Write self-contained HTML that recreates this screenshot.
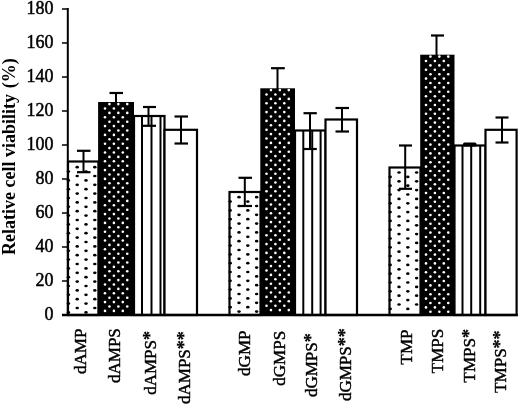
<!DOCTYPE html>
<html><head><meta charset="utf-8"><style>
html,body{margin:0;padding:0;background:#fff;}
body{width:520px;height:406px;overflow:hidden;}
svg{display:block;will-change:transform;}
text{font-family:"Liberation Serif",serif;fill:#000;}
.tk{font-size:18px;stroke:#000;stroke-width:0.5px;}
.yt{font-size:18px;font-weight:bold;}
.xl{font-size:17px;stroke:#000;stroke-width:0.45px;}
.st{font-size:18px;font-weight:bold;stroke-width:0.2px;}
</style></head><body>
<svg width="520" height="406" viewBox="0 0 520 406">
<defs></defs>
<rect x="68" y="161.5" width="30.400000000000006" height="153.5" fill="#fff" stroke="#000" stroke-width="2.2"/>
<ellipse cx="77.20" cy="167.20" rx="1.75" ry="1.35" fill="#000"/>
<ellipse cx="77.20" cy="176.00" rx="1.75" ry="1.35" fill="#000"/>
<ellipse cx="77.20" cy="184.80" rx="1.75" ry="1.35" fill="#000"/>
<ellipse cx="77.20" cy="193.60" rx="1.75" ry="1.35" fill="#000"/>
<ellipse cx="77.20" cy="202.40" rx="1.75" ry="1.35" fill="#000"/>
<ellipse cx="77.20" cy="211.20" rx="1.75" ry="1.35" fill="#000"/>
<ellipse cx="77.20" cy="220.00" rx="1.75" ry="1.35" fill="#000"/>
<ellipse cx="77.20" cy="228.80" rx="1.75" ry="1.35" fill="#000"/>
<ellipse cx="77.20" cy="237.60" rx="1.75" ry="1.35" fill="#000"/>
<ellipse cx="77.20" cy="246.40" rx="1.75" ry="1.35" fill="#000"/>
<ellipse cx="77.20" cy="255.20" rx="1.75" ry="1.35" fill="#000"/>
<ellipse cx="77.20" cy="264.00" rx="1.75" ry="1.35" fill="#000"/>
<ellipse cx="77.20" cy="272.80" rx="1.75" ry="1.35" fill="#000"/>
<ellipse cx="77.20" cy="281.60" rx="1.75" ry="1.35" fill="#000"/>
<ellipse cx="77.20" cy="290.40" rx="1.75" ry="1.35" fill="#000"/>
<ellipse cx="77.20" cy="299.20" rx="1.75" ry="1.35" fill="#000"/>
<ellipse cx="77.20" cy="308.00" rx="1.75" ry="1.35" fill="#000"/>
<ellipse cx="94.80" cy="167.20" rx="1.75" ry="1.35" fill="#000"/>
<ellipse cx="94.80" cy="176.00" rx="1.75" ry="1.35" fill="#000"/>
<ellipse cx="94.80" cy="184.80" rx="1.75" ry="1.35" fill="#000"/>
<ellipse cx="94.80" cy="193.60" rx="1.75" ry="1.35" fill="#000"/>
<ellipse cx="94.80" cy="202.40" rx="1.75" ry="1.35" fill="#000"/>
<ellipse cx="94.80" cy="211.20" rx="1.75" ry="1.35" fill="#000"/>
<ellipse cx="94.80" cy="220.00" rx="1.75" ry="1.35" fill="#000"/>
<ellipse cx="94.80" cy="228.80" rx="1.75" ry="1.35" fill="#000"/>
<ellipse cx="94.80" cy="237.60" rx="1.75" ry="1.35" fill="#000"/>
<ellipse cx="94.80" cy="246.40" rx="1.75" ry="1.35" fill="#000"/>
<ellipse cx="94.80" cy="255.20" rx="1.75" ry="1.35" fill="#000"/>
<ellipse cx="94.80" cy="264.00" rx="1.75" ry="1.35" fill="#000"/>
<ellipse cx="94.80" cy="272.80" rx="1.75" ry="1.35" fill="#000"/>
<ellipse cx="94.80" cy="281.60" rx="1.75" ry="1.35" fill="#000"/>
<ellipse cx="94.80" cy="290.40" rx="1.75" ry="1.35" fill="#000"/>
<ellipse cx="94.80" cy="299.20" rx="1.75" ry="1.35" fill="#000"/>
<ellipse cx="94.80" cy="308.00" rx="1.75" ry="1.35" fill="#000"/>
<ellipse cx="86.00" cy="171.60" rx="1.75" ry="1.35" fill="#000"/>
<ellipse cx="86.00" cy="180.40" rx="1.75" ry="1.35" fill="#000"/>
<ellipse cx="86.00" cy="189.20" rx="1.75" ry="1.35" fill="#000"/>
<ellipse cx="86.00" cy="198.00" rx="1.75" ry="1.35" fill="#000"/>
<ellipse cx="86.00" cy="206.80" rx="1.75" ry="1.35" fill="#000"/>
<ellipse cx="86.00" cy="215.60" rx="1.75" ry="1.35" fill="#000"/>
<ellipse cx="86.00" cy="224.40" rx="1.75" ry="1.35" fill="#000"/>
<ellipse cx="86.00" cy="233.20" rx="1.75" ry="1.35" fill="#000"/>
<ellipse cx="86.00" cy="242.00" rx="1.75" ry="1.35" fill="#000"/>
<ellipse cx="86.00" cy="250.80" rx="1.75" ry="1.35" fill="#000"/>
<ellipse cx="86.00" cy="259.60" rx="1.75" ry="1.35" fill="#000"/>
<ellipse cx="86.00" cy="268.40" rx="1.75" ry="1.35" fill="#000"/>
<ellipse cx="86.00" cy="277.20" rx="1.75" ry="1.35" fill="#000"/>
<ellipse cx="86.00" cy="286.00" rx="1.75" ry="1.35" fill="#000"/>
<ellipse cx="86.00" cy="294.80" rx="1.75" ry="1.35" fill="#000"/>
<ellipse cx="86.00" cy="303.60" rx="1.75" ry="1.35" fill="#000"/>
<ellipse cx="86.00" cy="312.40" rx="1.75" ry="1.35" fill="#000"/>
<ellipse cx="68.40" cy="171.60" rx="1.75" ry="1.35" fill="#000"/>
<ellipse cx="68.40" cy="180.40" rx="1.75" ry="1.35" fill="#000"/>
<ellipse cx="68.40" cy="189.20" rx="1.75" ry="1.35" fill="#000"/>
<ellipse cx="68.40" cy="198.00" rx="1.75" ry="1.35" fill="#000"/>
<ellipse cx="68.40" cy="206.80" rx="1.75" ry="1.35" fill="#000"/>
<ellipse cx="68.40" cy="215.60" rx="1.75" ry="1.35" fill="#000"/>
<ellipse cx="68.40" cy="224.40" rx="1.75" ry="1.35" fill="#000"/>
<ellipse cx="68.40" cy="233.20" rx="1.75" ry="1.35" fill="#000"/>
<ellipse cx="68.40" cy="242.00" rx="1.75" ry="1.35" fill="#000"/>
<ellipse cx="68.40" cy="250.80" rx="1.75" ry="1.35" fill="#000"/>
<ellipse cx="68.40" cy="259.60" rx="1.75" ry="1.35" fill="#000"/>
<ellipse cx="68.40" cy="268.40" rx="1.75" ry="1.35" fill="#000"/>
<ellipse cx="68.40" cy="277.20" rx="1.75" ry="1.35" fill="#000"/>
<ellipse cx="68.40" cy="286.00" rx="1.75" ry="1.35" fill="#000"/>
<ellipse cx="68.40" cy="294.80" rx="1.75" ry="1.35" fill="#000"/>
<ellipse cx="68.40" cy="303.60" rx="1.75" ry="1.35" fill="#000"/>
<ellipse cx="68.40" cy="312.40" rx="1.75" ry="1.35" fill="#000"/>
<rect x="98.10000000000001" y="102" width="35.89999999999999" height="213.0" fill="#000"/>
<circle cx="105.00" cy="108.50" r="1.3" fill="#fff"/>
<circle cx="105.00" cy="117.30" r="1.3" fill="#fff"/>
<circle cx="105.00" cy="126.10" r="1.3" fill="#fff"/>
<circle cx="105.00" cy="134.90" r="1.3" fill="#fff"/>
<circle cx="105.00" cy="143.70" r="1.3" fill="#fff"/>
<circle cx="105.00" cy="152.50" r="1.3" fill="#fff"/>
<circle cx="105.00" cy="161.30" r="1.3" fill="#fff"/>
<circle cx="105.00" cy="170.10" r="1.3" fill="#fff"/>
<circle cx="105.00" cy="178.90" r="1.3" fill="#fff"/>
<circle cx="105.00" cy="187.70" r="1.3" fill="#fff"/>
<circle cx="105.00" cy="196.50" r="1.3" fill="#fff"/>
<circle cx="105.00" cy="205.30" r="1.3" fill="#fff"/>
<circle cx="105.00" cy="214.10" r="1.3" fill="#fff"/>
<circle cx="105.00" cy="222.90" r="1.3" fill="#fff"/>
<circle cx="105.00" cy="231.70" r="1.3" fill="#fff"/>
<circle cx="105.00" cy="240.50" r="1.3" fill="#fff"/>
<circle cx="105.00" cy="249.30" r="1.3" fill="#fff"/>
<circle cx="105.00" cy="258.10" r="1.3" fill="#fff"/>
<circle cx="105.00" cy="266.90" r="1.3" fill="#fff"/>
<circle cx="105.00" cy="275.70" r="1.3" fill="#fff"/>
<circle cx="105.00" cy="284.50" r="1.3" fill="#fff"/>
<circle cx="105.00" cy="293.30" r="1.3" fill="#fff"/>
<circle cx="105.00" cy="302.10" r="1.3" fill="#fff"/>
<circle cx="105.00" cy="310.90" r="1.3" fill="#fff"/>
<circle cx="109.45" cy="104.10" r="1.3" fill="#fff"/>
<circle cx="109.45" cy="112.90" r="1.3" fill="#fff"/>
<circle cx="109.45" cy="121.70" r="1.3" fill="#fff"/>
<circle cx="109.45" cy="130.50" r="1.3" fill="#fff"/>
<circle cx="109.45" cy="139.30" r="1.3" fill="#fff"/>
<circle cx="109.45" cy="148.10" r="1.3" fill="#fff"/>
<circle cx="109.45" cy="156.90" r="1.3" fill="#fff"/>
<circle cx="109.45" cy="165.70" r="1.3" fill="#fff"/>
<circle cx="109.45" cy="174.50" r="1.3" fill="#fff"/>
<circle cx="109.45" cy="183.30" r="1.3" fill="#fff"/>
<circle cx="109.45" cy="192.10" r="1.3" fill="#fff"/>
<circle cx="109.45" cy="200.90" r="1.3" fill="#fff"/>
<circle cx="109.45" cy="209.70" r="1.3" fill="#fff"/>
<circle cx="109.45" cy="218.50" r="1.3" fill="#fff"/>
<circle cx="109.45" cy="227.30" r="1.3" fill="#fff"/>
<circle cx="109.45" cy="236.10" r="1.3" fill="#fff"/>
<circle cx="109.45" cy="244.90" r="1.3" fill="#fff"/>
<circle cx="109.45" cy="253.70" r="1.3" fill="#fff"/>
<circle cx="109.45" cy="262.50" r="1.3" fill="#fff"/>
<circle cx="109.45" cy="271.30" r="1.3" fill="#fff"/>
<circle cx="109.45" cy="280.10" r="1.3" fill="#fff"/>
<circle cx="109.45" cy="288.90" r="1.3" fill="#fff"/>
<circle cx="109.45" cy="297.70" r="1.3" fill="#fff"/>
<circle cx="109.45" cy="306.50" r="1.3" fill="#fff"/>
<circle cx="113.90" cy="108.50" r="1.3" fill="#fff"/>
<circle cx="113.90" cy="117.30" r="1.3" fill="#fff"/>
<circle cx="113.90" cy="126.10" r="1.3" fill="#fff"/>
<circle cx="113.90" cy="134.90" r="1.3" fill="#fff"/>
<circle cx="113.90" cy="143.70" r="1.3" fill="#fff"/>
<circle cx="113.90" cy="152.50" r="1.3" fill="#fff"/>
<circle cx="113.90" cy="161.30" r="1.3" fill="#fff"/>
<circle cx="113.90" cy="170.10" r="1.3" fill="#fff"/>
<circle cx="113.90" cy="178.90" r="1.3" fill="#fff"/>
<circle cx="113.90" cy="187.70" r="1.3" fill="#fff"/>
<circle cx="113.90" cy="196.50" r="1.3" fill="#fff"/>
<circle cx="113.90" cy="205.30" r="1.3" fill="#fff"/>
<circle cx="113.90" cy="214.10" r="1.3" fill="#fff"/>
<circle cx="113.90" cy="222.90" r="1.3" fill="#fff"/>
<circle cx="113.90" cy="231.70" r="1.3" fill="#fff"/>
<circle cx="113.90" cy="240.50" r="1.3" fill="#fff"/>
<circle cx="113.90" cy="249.30" r="1.3" fill="#fff"/>
<circle cx="113.90" cy="258.10" r="1.3" fill="#fff"/>
<circle cx="113.90" cy="266.90" r="1.3" fill="#fff"/>
<circle cx="113.90" cy="275.70" r="1.3" fill="#fff"/>
<circle cx="113.90" cy="284.50" r="1.3" fill="#fff"/>
<circle cx="113.90" cy="293.30" r="1.3" fill="#fff"/>
<circle cx="113.90" cy="302.10" r="1.3" fill="#fff"/>
<circle cx="113.90" cy="310.90" r="1.3" fill="#fff"/>
<circle cx="118.35" cy="104.10" r="1.3" fill="#fff"/>
<circle cx="118.35" cy="112.90" r="1.3" fill="#fff"/>
<circle cx="118.35" cy="121.70" r="1.3" fill="#fff"/>
<circle cx="118.35" cy="130.50" r="1.3" fill="#fff"/>
<circle cx="118.35" cy="139.30" r="1.3" fill="#fff"/>
<circle cx="118.35" cy="148.10" r="1.3" fill="#fff"/>
<circle cx="118.35" cy="156.90" r="1.3" fill="#fff"/>
<circle cx="118.35" cy="165.70" r="1.3" fill="#fff"/>
<circle cx="118.35" cy="174.50" r="1.3" fill="#fff"/>
<circle cx="118.35" cy="183.30" r="1.3" fill="#fff"/>
<circle cx="118.35" cy="192.10" r="1.3" fill="#fff"/>
<circle cx="118.35" cy="200.90" r="1.3" fill="#fff"/>
<circle cx="118.35" cy="209.70" r="1.3" fill="#fff"/>
<circle cx="118.35" cy="218.50" r="1.3" fill="#fff"/>
<circle cx="118.35" cy="227.30" r="1.3" fill="#fff"/>
<circle cx="118.35" cy="236.10" r="1.3" fill="#fff"/>
<circle cx="118.35" cy="244.90" r="1.3" fill="#fff"/>
<circle cx="118.35" cy="253.70" r="1.3" fill="#fff"/>
<circle cx="118.35" cy="262.50" r="1.3" fill="#fff"/>
<circle cx="118.35" cy="271.30" r="1.3" fill="#fff"/>
<circle cx="118.35" cy="280.10" r="1.3" fill="#fff"/>
<circle cx="118.35" cy="288.90" r="1.3" fill="#fff"/>
<circle cx="118.35" cy="297.70" r="1.3" fill="#fff"/>
<circle cx="118.35" cy="306.50" r="1.3" fill="#fff"/>
<circle cx="122.80" cy="108.50" r="1.3" fill="#fff"/>
<circle cx="122.80" cy="117.30" r="1.3" fill="#fff"/>
<circle cx="122.80" cy="126.10" r="1.3" fill="#fff"/>
<circle cx="122.80" cy="134.90" r="1.3" fill="#fff"/>
<circle cx="122.80" cy="143.70" r="1.3" fill="#fff"/>
<circle cx="122.80" cy="152.50" r="1.3" fill="#fff"/>
<circle cx="122.80" cy="161.30" r="1.3" fill="#fff"/>
<circle cx="122.80" cy="170.10" r="1.3" fill="#fff"/>
<circle cx="122.80" cy="178.90" r="1.3" fill="#fff"/>
<circle cx="122.80" cy="187.70" r="1.3" fill="#fff"/>
<circle cx="122.80" cy="196.50" r="1.3" fill="#fff"/>
<circle cx="122.80" cy="205.30" r="1.3" fill="#fff"/>
<circle cx="122.80" cy="214.10" r="1.3" fill="#fff"/>
<circle cx="122.80" cy="222.90" r="1.3" fill="#fff"/>
<circle cx="122.80" cy="231.70" r="1.3" fill="#fff"/>
<circle cx="122.80" cy="240.50" r="1.3" fill="#fff"/>
<circle cx="122.80" cy="249.30" r="1.3" fill="#fff"/>
<circle cx="122.80" cy="258.10" r="1.3" fill="#fff"/>
<circle cx="122.80" cy="266.90" r="1.3" fill="#fff"/>
<circle cx="122.80" cy="275.70" r="1.3" fill="#fff"/>
<circle cx="122.80" cy="284.50" r="1.3" fill="#fff"/>
<circle cx="122.80" cy="293.30" r="1.3" fill="#fff"/>
<circle cx="122.80" cy="302.10" r="1.3" fill="#fff"/>
<circle cx="122.80" cy="310.90" r="1.3" fill="#fff"/>
<circle cx="127.25" cy="104.10" r="1.3" fill="#fff"/>
<circle cx="127.25" cy="112.90" r="1.3" fill="#fff"/>
<circle cx="127.25" cy="121.70" r="1.3" fill="#fff"/>
<circle cx="127.25" cy="130.50" r="1.3" fill="#fff"/>
<circle cx="127.25" cy="139.30" r="1.3" fill="#fff"/>
<circle cx="127.25" cy="148.10" r="1.3" fill="#fff"/>
<circle cx="127.25" cy="156.90" r="1.3" fill="#fff"/>
<circle cx="127.25" cy="165.70" r="1.3" fill="#fff"/>
<circle cx="127.25" cy="174.50" r="1.3" fill="#fff"/>
<circle cx="127.25" cy="183.30" r="1.3" fill="#fff"/>
<circle cx="127.25" cy="192.10" r="1.3" fill="#fff"/>
<circle cx="127.25" cy="200.90" r="1.3" fill="#fff"/>
<circle cx="127.25" cy="209.70" r="1.3" fill="#fff"/>
<circle cx="127.25" cy="218.50" r="1.3" fill="#fff"/>
<circle cx="127.25" cy="227.30" r="1.3" fill="#fff"/>
<circle cx="127.25" cy="236.10" r="1.3" fill="#fff"/>
<circle cx="127.25" cy="244.90" r="1.3" fill="#fff"/>
<circle cx="127.25" cy="253.70" r="1.3" fill="#fff"/>
<circle cx="127.25" cy="262.50" r="1.3" fill="#fff"/>
<circle cx="127.25" cy="271.30" r="1.3" fill="#fff"/>
<circle cx="127.25" cy="280.10" r="1.3" fill="#fff"/>
<circle cx="127.25" cy="288.90" r="1.3" fill="#fff"/>
<circle cx="127.25" cy="297.70" r="1.3" fill="#fff"/>
<circle cx="127.25" cy="306.50" r="1.3" fill="#fff"/>
<rect x="134" y="116" width="30.5" height="199.0" fill="#fff" stroke="#000" stroke-width="2.2"/>
<line x1="142" y1="116" x2="142" y2="315.0" stroke="#000" stroke-width="2"/>
<line x1="151.5" y1="116" x2="151.5" y2="315.0" stroke="#000" stroke-width="2"/>
<line x1="160.5" y1="116" x2="160.5" y2="315.0" stroke="#000" stroke-width="2"/>
<rect x="164.5" y="129.8" width="32.5" height="185.2" fill="#fff" stroke="#000" stroke-width="2.2"/>
<rect x="229.5" y="192" width="31.0" height="123.0" fill="#fff" stroke="#000" stroke-width="2.2"/>
<ellipse cx="239.00" cy="197.20" rx="1.75" ry="1.35" fill="#000"/>
<ellipse cx="239.00" cy="206.00" rx="1.75" ry="1.35" fill="#000"/>
<ellipse cx="239.00" cy="214.80" rx="1.75" ry="1.35" fill="#000"/>
<ellipse cx="239.00" cy="223.60" rx="1.75" ry="1.35" fill="#000"/>
<ellipse cx="239.00" cy="232.40" rx="1.75" ry="1.35" fill="#000"/>
<ellipse cx="239.00" cy="241.20" rx="1.75" ry="1.35" fill="#000"/>
<ellipse cx="239.00" cy="250.00" rx="1.75" ry="1.35" fill="#000"/>
<ellipse cx="239.00" cy="258.80" rx="1.75" ry="1.35" fill="#000"/>
<ellipse cx="239.00" cy="267.60" rx="1.75" ry="1.35" fill="#000"/>
<ellipse cx="239.00" cy="276.40" rx="1.75" ry="1.35" fill="#000"/>
<ellipse cx="239.00" cy="285.20" rx="1.75" ry="1.35" fill="#000"/>
<ellipse cx="239.00" cy="294.00" rx="1.75" ry="1.35" fill="#000"/>
<ellipse cx="239.00" cy="302.80" rx="1.75" ry="1.35" fill="#000"/>
<ellipse cx="239.00" cy="311.60" rx="1.75" ry="1.35" fill="#000"/>
<ellipse cx="256.60" cy="197.20" rx="1.75" ry="1.35" fill="#000"/>
<ellipse cx="256.60" cy="206.00" rx="1.75" ry="1.35" fill="#000"/>
<ellipse cx="256.60" cy="214.80" rx="1.75" ry="1.35" fill="#000"/>
<ellipse cx="256.60" cy="223.60" rx="1.75" ry="1.35" fill="#000"/>
<ellipse cx="256.60" cy="232.40" rx="1.75" ry="1.35" fill="#000"/>
<ellipse cx="256.60" cy="241.20" rx="1.75" ry="1.35" fill="#000"/>
<ellipse cx="256.60" cy="250.00" rx="1.75" ry="1.35" fill="#000"/>
<ellipse cx="256.60" cy="258.80" rx="1.75" ry="1.35" fill="#000"/>
<ellipse cx="256.60" cy="267.60" rx="1.75" ry="1.35" fill="#000"/>
<ellipse cx="256.60" cy="276.40" rx="1.75" ry="1.35" fill="#000"/>
<ellipse cx="256.60" cy="285.20" rx="1.75" ry="1.35" fill="#000"/>
<ellipse cx="256.60" cy="294.00" rx="1.75" ry="1.35" fill="#000"/>
<ellipse cx="256.60" cy="302.80" rx="1.75" ry="1.35" fill="#000"/>
<ellipse cx="256.60" cy="311.60" rx="1.75" ry="1.35" fill="#000"/>
<ellipse cx="247.80" cy="201.60" rx="1.75" ry="1.35" fill="#000"/>
<ellipse cx="247.80" cy="210.40" rx="1.75" ry="1.35" fill="#000"/>
<ellipse cx="247.80" cy="219.20" rx="1.75" ry="1.35" fill="#000"/>
<ellipse cx="247.80" cy="228.00" rx="1.75" ry="1.35" fill="#000"/>
<ellipse cx="247.80" cy="236.80" rx="1.75" ry="1.35" fill="#000"/>
<ellipse cx="247.80" cy="245.60" rx="1.75" ry="1.35" fill="#000"/>
<ellipse cx="247.80" cy="254.40" rx="1.75" ry="1.35" fill="#000"/>
<ellipse cx="247.80" cy="263.20" rx="1.75" ry="1.35" fill="#000"/>
<ellipse cx="247.80" cy="272.00" rx="1.75" ry="1.35" fill="#000"/>
<ellipse cx="247.80" cy="280.80" rx="1.75" ry="1.35" fill="#000"/>
<ellipse cx="247.80" cy="289.60" rx="1.75" ry="1.35" fill="#000"/>
<ellipse cx="247.80" cy="298.40" rx="1.75" ry="1.35" fill="#000"/>
<ellipse cx="247.80" cy="307.20" rx="1.75" ry="1.35" fill="#000"/>
<ellipse cx="230.20" cy="201.60" rx="1.75" ry="1.35" fill="#000"/>
<ellipse cx="230.20" cy="210.40" rx="1.75" ry="1.35" fill="#000"/>
<ellipse cx="230.20" cy="219.20" rx="1.75" ry="1.35" fill="#000"/>
<ellipse cx="230.20" cy="228.00" rx="1.75" ry="1.35" fill="#000"/>
<ellipse cx="230.20" cy="236.80" rx="1.75" ry="1.35" fill="#000"/>
<ellipse cx="230.20" cy="245.60" rx="1.75" ry="1.35" fill="#000"/>
<ellipse cx="230.20" cy="254.40" rx="1.75" ry="1.35" fill="#000"/>
<ellipse cx="230.20" cy="263.20" rx="1.75" ry="1.35" fill="#000"/>
<ellipse cx="230.20" cy="272.00" rx="1.75" ry="1.35" fill="#000"/>
<ellipse cx="230.20" cy="280.80" rx="1.75" ry="1.35" fill="#000"/>
<ellipse cx="230.20" cy="289.60" rx="1.75" ry="1.35" fill="#000"/>
<ellipse cx="230.20" cy="298.40" rx="1.75" ry="1.35" fill="#000"/>
<ellipse cx="230.20" cy="307.20" rx="1.75" ry="1.35" fill="#000"/>
<rect x="260.3" y="88.3" width="34.699999999999974" height="226.7" fill="#000"/>
<circle cx="266.50" cy="94.50" r="1.3" fill="#fff"/>
<circle cx="266.50" cy="103.30" r="1.3" fill="#fff"/>
<circle cx="266.50" cy="112.10" r="1.3" fill="#fff"/>
<circle cx="266.50" cy="120.90" r="1.3" fill="#fff"/>
<circle cx="266.50" cy="129.70" r="1.3" fill="#fff"/>
<circle cx="266.50" cy="138.50" r="1.3" fill="#fff"/>
<circle cx="266.50" cy="147.30" r="1.3" fill="#fff"/>
<circle cx="266.50" cy="156.10" r="1.3" fill="#fff"/>
<circle cx="266.50" cy="164.90" r="1.3" fill="#fff"/>
<circle cx="266.50" cy="173.70" r="1.3" fill="#fff"/>
<circle cx="266.50" cy="182.50" r="1.3" fill="#fff"/>
<circle cx="266.50" cy="191.30" r="1.3" fill="#fff"/>
<circle cx="266.50" cy="200.10" r="1.3" fill="#fff"/>
<circle cx="266.50" cy="208.90" r="1.3" fill="#fff"/>
<circle cx="266.50" cy="217.70" r="1.3" fill="#fff"/>
<circle cx="266.50" cy="226.50" r="1.3" fill="#fff"/>
<circle cx="266.50" cy="235.30" r="1.3" fill="#fff"/>
<circle cx="266.50" cy="244.10" r="1.3" fill="#fff"/>
<circle cx="266.50" cy="252.90" r="1.3" fill="#fff"/>
<circle cx="266.50" cy="261.70" r="1.3" fill="#fff"/>
<circle cx="266.50" cy="270.50" r="1.3" fill="#fff"/>
<circle cx="266.50" cy="279.30" r="1.3" fill="#fff"/>
<circle cx="266.50" cy="288.10" r="1.3" fill="#fff"/>
<circle cx="266.50" cy="296.90" r="1.3" fill="#fff"/>
<circle cx="266.50" cy="305.70" r="1.3" fill="#fff"/>
<circle cx="270.95" cy="90.10" r="1.3" fill="#fff"/>
<circle cx="270.95" cy="98.90" r="1.3" fill="#fff"/>
<circle cx="270.95" cy="107.70" r="1.3" fill="#fff"/>
<circle cx="270.95" cy="116.50" r="1.3" fill="#fff"/>
<circle cx="270.95" cy="125.30" r="1.3" fill="#fff"/>
<circle cx="270.95" cy="134.10" r="1.3" fill="#fff"/>
<circle cx="270.95" cy="142.90" r="1.3" fill="#fff"/>
<circle cx="270.95" cy="151.70" r="1.3" fill="#fff"/>
<circle cx="270.95" cy="160.50" r="1.3" fill="#fff"/>
<circle cx="270.95" cy="169.30" r="1.3" fill="#fff"/>
<circle cx="270.95" cy="178.10" r="1.3" fill="#fff"/>
<circle cx="270.95" cy="186.90" r="1.3" fill="#fff"/>
<circle cx="270.95" cy="195.70" r="1.3" fill="#fff"/>
<circle cx="270.95" cy="204.50" r="1.3" fill="#fff"/>
<circle cx="270.95" cy="213.30" r="1.3" fill="#fff"/>
<circle cx="270.95" cy="222.10" r="1.3" fill="#fff"/>
<circle cx="270.95" cy="230.90" r="1.3" fill="#fff"/>
<circle cx="270.95" cy="239.70" r="1.3" fill="#fff"/>
<circle cx="270.95" cy="248.50" r="1.3" fill="#fff"/>
<circle cx="270.95" cy="257.30" r="1.3" fill="#fff"/>
<circle cx="270.95" cy="266.10" r="1.3" fill="#fff"/>
<circle cx="270.95" cy="274.90" r="1.3" fill="#fff"/>
<circle cx="270.95" cy="283.70" r="1.3" fill="#fff"/>
<circle cx="270.95" cy="292.50" r="1.3" fill="#fff"/>
<circle cx="270.95" cy="301.30" r="1.3" fill="#fff"/>
<circle cx="270.95" cy="310.10" r="1.3" fill="#fff"/>
<circle cx="275.40" cy="94.50" r="1.3" fill="#fff"/>
<circle cx="275.40" cy="103.30" r="1.3" fill="#fff"/>
<circle cx="275.40" cy="112.10" r="1.3" fill="#fff"/>
<circle cx="275.40" cy="120.90" r="1.3" fill="#fff"/>
<circle cx="275.40" cy="129.70" r="1.3" fill="#fff"/>
<circle cx="275.40" cy="138.50" r="1.3" fill="#fff"/>
<circle cx="275.40" cy="147.30" r="1.3" fill="#fff"/>
<circle cx="275.40" cy="156.10" r="1.3" fill="#fff"/>
<circle cx="275.40" cy="164.90" r="1.3" fill="#fff"/>
<circle cx="275.40" cy="173.70" r="1.3" fill="#fff"/>
<circle cx="275.40" cy="182.50" r="1.3" fill="#fff"/>
<circle cx="275.40" cy="191.30" r="1.3" fill="#fff"/>
<circle cx="275.40" cy="200.10" r="1.3" fill="#fff"/>
<circle cx="275.40" cy="208.90" r="1.3" fill="#fff"/>
<circle cx="275.40" cy="217.70" r="1.3" fill="#fff"/>
<circle cx="275.40" cy="226.50" r="1.3" fill="#fff"/>
<circle cx="275.40" cy="235.30" r="1.3" fill="#fff"/>
<circle cx="275.40" cy="244.10" r="1.3" fill="#fff"/>
<circle cx="275.40" cy="252.90" r="1.3" fill="#fff"/>
<circle cx="275.40" cy="261.70" r="1.3" fill="#fff"/>
<circle cx="275.40" cy="270.50" r="1.3" fill="#fff"/>
<circle cx="275.40" cy="279.30" r="1.3" fill="#fff"/>
<circle cx="275.40" cy="288.10" r="1.3" fill="#fff"/>
<circle cx="275.40" cy="296.90" r="1.3" fill="#fff"/>
<circle cx="275.40" cy="305.70" r="1.3" fill="#fff"/>
<circle cx="279.85" cy="90.10" r="1.3" fill="#fff"/>
<circle cx="279.85" cy="98.90" r="1.3" fill="#fff"/>
<circle cx="279.85" cy="107.70" r="1.3" fill="#fff"/>
<circle cx="279.85" cy="116.50" r="1.3" fill="#fff"/>
<circle cx="279.85" cy="125.30" r="1.3" fill="#fff"/>
<circle cx="279.85" cy="134.10" r="1.3" fill="#fff"/>
<circle cx="279.85" cy="142.90" r="1.3" fill="#fff"/>
<circle cx="279.85" cy="151.70" r="1.3" fill="#fff"/>
<circle cx="279.85" cy="160.50" r="1.3" fill="#fff"/>
<circle cx="279.85" cy="169.30" r="1.3" fill="#fff"/>
<circle cx="279.85" cy="178.10" r="1.3" fill="#fff"/>
<circle cx="279.85" cy="186.90" r="1.3" fill="#fff"/>
<circle cx="279.85" cy="195.70" r="1.3" fill="#fff"/>
<circle cx="279.85" cy="204.50" r="1.3" fill="#fff"/>
<circle cx="279.85" cy="213.30" r="1.3" fill="#fff"/>
<circle cx="279.85" cy="222.10" r="1.3" fill="#fff"/>
<circle cx="279.85" cy="230.90" r="1.3" fill="#fff"/>
<circle cx="279.85" cy="239.70" r="1.3" fill="#fff"/>
<circle cx="279.85" cy="248.50" r="1.3" fill="#fff"/>
<circle cx="279.85" cy="257.30" r="1.3" fill="#fff"/>
<circle cx="279.85" cy="266.10" r="1.3" fill="#fff"/>
<circle cx="279.85" cy="274.90" r="1.3" fill="#fff"/>
<circle cx="279.85" cy="283.70" r="1.3" fill="#fff"/>
<circle cx="279.85" cy="292.50" r="1.3" fill="#fff"/>
<circle cx="279.85" cy="301.30" r="1.3" fill="#fff"/>
<circle cx="279.85" cy="310.10" r="1.3" fill="#fff"/>
<circle cx="284.30" cy="94.50" r="1.3" fill="#fff"/>
<circle cx="284.30" cy="103.30" r="1.3" fill="#fff"/>
<circle cx="284.30" cy="112.10" r="1.3" fill="#fff"/>
<circle cx="284.30" cy="120.90" r="1.3" fill="#fff"/>
<circle cx="284.30" cy="129.70" r="1.3" fill="#fff"/>
<circle cx="284.30" cy="138.50" r="1.3" fill="#fff"/>
<circle cx="284.30" cy="147.30" r="1.3" fill="#fff"/>
<circle cx="284.30" cy="156.10" r="1.3" fill="#fff"/>
<circle cx="284.30" cy="164.90" r="1.3" fill="#fff"/>
<circle cx="284.30" cy="173.70" r="1.3" fill="#fff"/>
<circle cx="284.30" cy="182.50" r="1.3" fill="#fff"/>
<circle cx="284.30" cy="191.30" r="1.3" fill="#fff"/>
<circle cx="284.30" cy="200.10" r="1.3" fill="#fff"/>
<circle cx="284.30" cy="208.90" r="1.3" fill="#fff"/>
<circle cx="284.30" cy="217.70" r="1.3" fill="#fff"/>
<circle cx="284.30" cy="226.50" r="1.3" fill="#fff"/>
<circle cx="284.30" cy="235.30" r="1.3" fill="#fff"/>
<circle cx="284.30" cy="244.10" r="1.3" fill="#fff"/>
<circle cx="284.30" cy="252.90" r="1.3" fill="#fff"/>
<circle cx="284.30" cy="261.70" r="1.3" fill="#fff"/>
<circle cx="284.30" cy="270.50" r="1.3" fill="#fff"/>
<circle cx="284.30" cy="279.30" r="1.3" fill="#fff"/>
<circle cx="284.30" cy="288.10" r="1.3" fill="#fff"/>
<circle cx="284.30" cy="296.90" r="1.3" fill="#fff"/>
<circle cx="284.30" cy="305.70" r="1.3" fill="#fff"/>
<circle cx="288.75" cy="90.10" r="1.3" fill="#fff"/>
<circle cx="288.75" cy="98.90" r="1.3" fill="#fff"/>
<circle cx="288.75" cy="107.70" r="1.3" fill="#fff"/>
<circle cx="288.75" cy="116.50" r="1.3" fill="#fff"/>
<circle cx="288.75" cy="125.30" r="1.3" fill="#fff"/>
<circle cx="288.75" cy="134.10" r="1.3" fill="#fff"/>
<circle cx="288.75" cy="142.90" r="1.3" fill="#fff"/>
<circle cx="288.75" cy="151.70" r="1.3" fill="#fff"/>
<circle cx="288.75" cy="160.50" r="1.3" fill="#fff"/>
<circle cx="288.75" cy="169.30" r="1.3" fill="#fff"/>
<circle cx="288.75" cy="178.10" r="1.3" fill="#fff"/>
<circle cx="288.75" cy="186.90" r="1.3" fill="#fff"/>
<circle cx="288.75" cy="195.70" r="1.3" fill="#fff"/>
<circle cx="288.75" cy="204.50" r="1.3" fill="#fff"/>
<circle cx="288.75" cy="213.30" r="1.3" fill="#fff"/>
<circle cx="288.75" cy="222.10" r="1.3" fill="#fff"/>
<circle cx="288.75" cy="230.90" r="1.3" fill="#fff"/>
<circle cx="288.75" cy="239.70" r="1.3" fill="#fff"/>
<circle cx="288.75" cy="248.50" r="1.3" fill="#fff"/>
<circle cx="288.75" cy="257.30" r="1.3" fill="#fff"/>
<circle cx="288.75" cy="266.10" r="1.3" fill="#fff"/>
<circle cx="288.75" cy="274.90" r="1.3" fill="#fff"/>
<circle cx="288.75" cy="283.70" r="1.3" fill="#fff"/>
<circle cx="288.75" cy="292.50" r="1.3" fill="#fff"/>
<circle cx="288.75" cy="301.30" r="1.3" fill="#fff"/>
<circle cx="288.75" cy="310.10" r="1.3" fill="#fff"/>
<rect x="295" y="130.5" width="30.5" height="184.5" fill="#fff" stroke="#000" stroke-width="2.2"/>
<line x1="303.3" y1="130.5" x2="303.3" y2="315.0" stroke="#000" stroke-width="2"/>
<line x1="312.2" y1="130.5" x2="312.2" y2="315.0" stroke="#000" stroke-width="2"/>
<line x1="320.6" y1="130.5" x2="320.6" y2="315.0" stroke="#000" stroke-width="2"/>
<rect x="325.5" y="119.5" width="31.5" height="195.5" fill="#fff" stroke="#000" stroke-width="2.2"/>
<rect x="389.5" y="167.5" width="31.0" height="147.5" fill="#fff" stroke="#000" stroke-width="2.2"/>
<ellipse cx="399.00" cy="172.50" rx="1.75" ry="1.35" fill="#000"/>
<ellipse cx="399.00" cy="181.30" rx="1.75" ry="1.35" fill="#000"/>
<ellipse cx="399.00" cy="190.10" rx="1.75" ry="1.35" fill="#000"/>
<ellipse cx="399.00" cy="198.90" rx="1.75" ry="1.35" fill="#000"/>
<ellipse cx="399.00" cy="207.70" rx="1.75" ry="1.35" fill="#000"/>
<ellipse cx="399.00" cy="216.50" rx="1.75" ry="1.35" fill="#000"/>
<ellipse cx="399.00" cy="225.30" rx="1.75" ry="1.35" fill="#000"/>
<ellipse cx="399.00" cy="234.10" rx="1.75" ry="1.35" fill="#000"/>
<ellipse cx="399.00" cy="242.90" rx="1.75" ry="1.35" fill="#000"/>
<ellipse cx="399.00" cy="251.70" rx="1.75" ry="1.35" fill="#000"/>
<ellipse cx="399.00" cy="260.50" rx="1.75" ry="1.35" fill="#000"/>
<ellipse cx="399.00" cy="269.30" rx="1.75" ry="1.35" fill="#000"/>
<ellipse cx="399.00" cy="278.10" rx="1.75" ry="1.35" fill="#000"/>
<ellipse cx="399.00" cy="286.90" rx="1.75" ry="1.35" fill="#000"/>
<ellipse cx="399.00" cy="295.70" rx="1.75" ry="1.35" fill="#000"/>
<ellipse cx="399.00" cy="304.50" rx="1.75" ry="1.35" fill="#000"/>
<ellipse cx="416.60" cy="172.50" rx="1.75" ry="1.35" fill="#000"/>
<ellipse cx="416.60" cy="181.30" rx="1.75" ry="1.35" fill="#000"/>
<ellipse cx="416.60" cy="190.10" rx="1.75" ry="1.35" fill="#000"/>
<ellipse cx="416.60" cy="198.90" rx="1.75" ry="1.35" fill="#000"/>
<ellipse cx="416.60" cy="207.70" rx="1.75" ry="1.35" fill="#000"/>
<ellipse cx="416.60" cy="216.50" rx="1.75" ry="1.35" fill="#000"/>
<ellipse cx="416.60" cy="225.30" rx="1.75" ry="1.35" fill="#000"/>
<ellipse cx="416.60" cy="234.10" rx="1.75" ry="1.35" fill="#000"/>
<ellipse cx="416.60" cy="242.90" rx="1.75" ry="1.35" fill="#000"/>
<ellipse cx="416.60" cy="251.70" rx="1.75" ry="1.35" fill="#000"/>
<ellipse cx="416.60" cy="260.50" rx="1.75" ry="1.35" fill="#000"/>
<ellipse cx="416.60" cy="269.30" rx="1.75" ry="1.35" fill="#000"/>
<ellipse cx="416.60" cy="278.10" rx="1.75" ry="1.35" fill="#000"/>
<ellipse cx="416.60" cy="286.90" rx="1.75" ry="1.35" fill="#000"/>
<ellipse cx="416.60" cy="295.70" rx="1.75" ry="1.35" fill="#000"/>
<ellipse cx="416.60" cy="304.50" rx="1.75" ry="1.35" fill="#000"/>
<ellipse cx="407.80" cy="176.90" rx="1.75" ry="1.35" fill="#000"/>
<ellipse cx="407.80" cy="185.70" rx="1.75" ry="1.35" fill="#000"/>
<ellipse cx="407.80" cy="194.50" rx="1.75" ry="1.35" fill="#000"/>
<ellipse cx="407.80" cy="203.30" rx="1.75" ry="1.35" fill="#000"/>
<ellipse cx="407.80" cy="212.10" rx="1.75" ry="1.35" fill="#000"/>
<ellipse cx="407.80" cy="220.90" rx="1.75" ry="1.35" fill="#000"/>
<ellipse cx="407.80" cy="229.70" rx="1.75" ry="1.35" fill="#000"/>
<ellipse cx="407.80" cy="238.50" rx="1.75" ry="1.35" fill="#000"/>
<ellipse cx="407.80" cy="247.30" rx="1.75" ry="1.35" fill="#000"/>
<ellipse cx="407.80" cy="256.10" rx="1.75" ry="1.35" fill="#000"/>
<ellipse cx="407.80" cy="264.90" rx="1.75" ry="1.35" fill="#000"/>
<ellipse cx="407.80" cy="273.70" rx="1.75" ry="1.35" fill="#000"/>
<ellipse cx="407.80" cy="282.50" rx="1.75" ry="1.35" fill="#000"/>
<ellipse cx="407.80" cy="291.30" rx="1.75" ry="1.35" fill="#000"/>
<ellipse cx="407.80" cy="300.10" rx="1.75" ry="1.35" fill="#000"/>
<ellipse cx="407.80" cy="308.90" rx="1.75" ry="1.35" fill="#000"/>
<ellipse cx="390.20" cy="176.90" rx="1.75" ry="1.35" fill="#000"/>
<ellipse cx="390.20" cy="185.70" rx="1.75" ry="1.35" fill="#000"/>
<ellipse cx="390.20" cy="194.50" rx="1.75" ry="1.35" fill="#000"/>
<ellipse cx="390.20" cy="203.30" rx="1.75" ry="1.35" fill="#000"/>
<ellipse cx="390.20" cy="212.10" rx="1.75" ry="1.35" fill="#000"/>
<ellipse cx="390.20" cy="220.90" rx="1.75" ry="1.35" fill="#000"/>
<ellipse cx="390.20" cy="229.70" rx="1.75" ry="1.35" fill="#000"/>
<ellipse cx="390.20" cy="238.50" rx="1.75" ry="1.35" fill="#000"/>
<ellipse cx="390.20" cy="247.30" rx="1.75" ry="1.35" fill="#000"/>
<ellipse cx="390.20" cy="256.10" rx="1.75" ry="1.35" fill="#000"/>
<ellipse cx="390.20" cy="264.90" rx="1.75" ry="1.35" fill="#000"/>
<ellipse cx="390.20" cy="273.70" rx="1.75" ry="1.35" fill="#000"/>
<ellipse cx="390.20" cy="282.50" rx="1.75" ry="1.35" fill="#000"/>
<ellipse cx="390.20" cy="291.30" rx="1.75" ry="1.35" fill="#000"/>
<ellipse cx="390.20" cy="300.10" rx="1.75" ry="1.35" fill="#000"/>
<ellipse cx="390.20" cy="308.90" rx="1.75" ry="1.35" fill="#000"/>
<rect x="420.2" y="54.7" width="34.3" height="260.3" fill="#000"/>
<circle cx="426.00" cy="61.00" r="1.3" fill="#fff"/>
<circle cx="426.00" cy="69.80" r="1.3" fill="#fff"/>
<circle cx="426.00" cy="78.60" r="1.3" fill="#fff"/>
<circle cx="426.00" cy="87.40" r="1.3" fill="#fff"/>
<circle cx="426.00" cy="96.20" r="1.3" fill="#fff"/>
<circle cx="426.00" cy="105.00" r="1.3" fill="#fff"/>
<circle cx="426.00" cy="113.80" r="1.3" fill="#fff"/>
<circle cx="426.00" cy="122.60" r="1.3" fill="#fff"/>
<circle cx="426.00" cy="131.40" r="1.3" fill="#fff"/>
<circle cx="426.00" cy="140.20" r="1.3" fill="#fff"/>
<circle cx="426.00" cy="149.00" r="1.3" fill="#fff"/>
<circle cx="426.00" cy="157.80" r="1.3" fill="#fff"/>
<circle cx="426.00" cy="166.60" r="1.3" fill="#fff"/>
<circle cx="426.00" cy="175.40" r="1.3" fill="#fff"/>
<circle cx="426.00" cy="184.20" r="1.3" fill="#fff"/>
<circle cx="426.00" cy="193.00" r="1.3" fill="#fff"/>
<circle cx="426.00" cy="201.80" r="1.3" fill="#fff"/>
<circle cx="426.00" cy="210.60" r="1.3" fill="#fff"/>
<circle cx="426.00" cy="219.40" r="1.3" fill="#fff"/>
<circle cx="426.00" cy="228.20" r="1.3" fill="#fff"/>
<circle cx="426.00" cy="237.00" r="1.3" fill="#fff"/>
<circle cx="426.00" cy="245.80" r="1.3" fill="#fff"/>
<circle cx="426.00" cy="254.60" r="1.3" fill="#fff"/>
<circle cx="426.00" cy="263.40" r="1.3" fill="#fff"/>
<circle cx="426.00" cy="272.20" r="1.3" fill="#fff"/>
<circle cx="426.00" cy="281.00" r="1.3" fill="#fff"/>
<circle cx="426.00" cy="289.80" r="1.3" fill="#fff"/>
<circle cx="426.00" cy="298.60" r="1.3" fill="#fff"/>
<circle cx="426.00" cy="307.40" r="1.3" fill="#fff"/>
<circle cx="430.45" cy="56.60" r="1.3" fill="#fff"/>
<circle cx="430.45" cy="65.40" r="1.3" fill="#fff"/>
<circle cx="430.45" cy="74.20" r="1.3" fill="#fff"/>
<circle cx="430.45" cy="83.00" r="1.3" fill="#fff"/>
<circle cx="430.45" cy="91.80" r="1.3" fill="#fff"/>
<circle cx="430.45" cy="100.60" r="1.3" fill="#fff"/>
<circle cx="430.45" cy="109.40" r="1.3" fill="#fff"/>
<circle cx="430.45" cy="118.20" r="1.3" fill="#fff"/>
<circle cx="430.45" cy="127.00" r="1.3" fill="#fff"/>
<circle cx="430.45" cy="135.80" r="1.3" fill="#fff"/>
<circle cx="430.45" cy="144.60" r="1.3" fill="#fff"/>
<circle cx="430.45" cy="153.40" r="1.3" fill="#fff"/>
<circle cx="430.45" cy="162.20" r="1.3" fill="#fff"/>
<circle cx="430.45" cy="171.00" r="1.3" fill="#fff"/>
<circle cx="430.45" cy="179.80" r="1.3" fill="#fff"/>
<circle cx="430.45" cy="188.60" r="1.3" fill="#fff"/>
<circle cx="430.45" cy="197.40" r="1.3" fill="#fff"/>
<circle cx="430.45" cy="206.20" r="1.3" fill="#fff"/>
<circle cx="430.45" cy="215.00" r="1.3" fill="#fff"/>
<circle cx="430.45" cy="223.80" r="1.3" fill="#fff"/>
<circle cx="430.45" cy="232.60" r="1.3" fill="#fff"/>
<circle cx="430.45" cy="241.40" r="1.3" fill="#fff"/>
<circle cx="430.45" cy="250.20" r="1.3" fill="#fff"/>
<circle cx="430.45" cy="259.00" r="1.3" fill="#fff"/>
<circle cx="430.45" cy="267.80" r="1.3" fill="#fff"/>
<circle cx="430.45" cy="276.60" r="1.3" fill="#fff"/>
<circle cx="430.45" cy="285.40" r="1.3" fill="#fff"/>
<circle cx="430.45" cy="294.20" r="1.3" fill="#fff"/>
<circle cx="430.45" cy="303.00" r="1.3" fill="#fff"/>
<circle cx="430.45" cy="311.80" r="1.3" fill="#fff"/>
<circle cx="434.90" cy="61.00" r="1.3" fill="#fff"/>
<circle cx="434.90" cy="69.80" r="1.3" fill="#fff"/>
<circle cx="434.90" cy="78.60" r="1.3" fill="#fff"/>
<circle cx="434.90" cy="87.40" r="1.3" fill="#fff"/>
<circle cx="434.90" cy="96.20" r="1.3" fill="#fff"/>
<circle cx="434.90" cy="105.00" r="1.3" fill="#fff"/>
<circle cx="434.90" cy="113.80" r="1.3" fill="#fff"/>
<circle cx="434.90" cy="122.60" r="1.3" fill="#fff"/>
<circle cx="434.90" cy="131.40" r="1.3" fill="#fff"/>
<circle cx="434.90" cy="140.20" r="1.3" fill="#fff"/>
<circle cx="434.90" cy="149.00" r="1.3" fill="#fff"/>
<circle cx="434.90" cy="157.80" r="1.3" fill="#fff"/>
<circle cx="434.90" cy="166.60" r="1.3" fill="#fff"/>
<circle cx="434.90" cy="175.40" r="1.3" fill="#fff"/>
<circle cx="434.90" cy="184.20" r="1.3" fill="#fff"/>
<circle cx="434.90" cy="193.00" r="1.3" fill="#fff"/>
<circle cx="434.90" cy="201.80" r="1.3" fill="#fff"/>
<circle cx="434.90" cy="210.60" r="1.3" fill="#fff"/>
<circle cx="434.90" cy="219.40" r="1.3" fill="#fff"/>
<circle cx="434.90" cy="228.20" r="1.3" fill="#fff"/>
<circle cx="434.90" cy="237.00" r="1.3" fill="#fff"/>
<circle cx="434.90" cy="245.80" r="1.3" fill="#fff"/>
<circle cx="434.90" cy="254.60" r="1.3" fill="#fff"/>
<circle cx="434.90" cy="263.40" r="1.3" fill="#fff"/>
<circle cx="434.90" cy="272.20" r="1.3" fill="#fff"/>
<circle cx="434.90" cy="281.00" r="1.3" fill="#fff"/>
<circle cx="434.90" cy="289.80" r="1.3" fill="#fff"/>
<circle cx="434.90" cy="298.60" r="1.3" fill="#fff"/>
<circle cx="434.90" cy="307.40" r="1.3" fill="#fff"/>
<circle cx="439.35" cy="56.60" r="1.3" fill="#fff"/>
<circle cx="439.35" cy="65.40" r="1.3" fill="#fff"/>
<circle cx="439.35" cy="74.20" r="1.3" fill="#fff"/>
<circle cx="439.35" cy="83.00" r="1.3" fill="#fff"/>
<circle cx="439.35" cy="91.80" r="1.3" fill="#fff"/>
<circle cx="439.35" cy="100.60" r="1.3" fill="#fff"/>
<circle cx="439.35" cy="109.40" r="1.3" fill="#fff"/>
<circle cx="439.35" cy="118.20" r="1.3" fill="#fff"/>
<circle cx="439.35" cy="127.00" r="1.3" fill="#fff"/>
<circle cx="439.35" cy="135.80" r="1.3" fill="#fff"/>
<circle cx="439.35" cy="144.60" r="1.3" fill="#fff"/>
<circle cx="439.35" cy="153.40" r="1.3" fill="#fff"/>
<circle cx="439.35" cy="162.20" r="1.3" fill="#fff"/>
<circle cx="439.35" cy="171.00" r="1.3" fill="#fff"/>
<circle cx="439.35" cy="179.80" r="1.3" fill="#fff"/>
<circle cx="439.35" cy="188.60" r="1.3" fill="#fff"/>
<circle cx="439.35" cy="197.40" r="1.3" fill="#fff"/>
<circle cx="439.35" cy="206.20" r="1.3" fill="#fff"/>
<circle cx="439.35" cy="215.00" r="1.3" fill="#fff"/>
<circle cx="439.35" cy="223.80" r="1.3" fill="#fff"/>
<circle cx="439.35" cy="232.60" r="1.3" fill="#fff"/>
<circle cx="439.35" cy="241.40" r="1.3" fill="#fff"/>
<circle cx="439.35" cy="250.20" r="1.3" fill="#fff"/>
<circle cx="439.35" cy="259.00" r="1.3" fill="#fff"/>
<circle cx="439.35" cy="267.80" r="1.3" fill="#fff"/>
<circle cx="439.35" cy="276.60" r="1.3" fill="#fff"/>
<circle cx="439.35" cy="285.40" r="1.3" fill="#fff"/>
<circle cx="439.35" cy="294.20" r="1.3" fill="#fff"/>
<circle cx="439.35" cy="303.00" r="1.3" fill="#fff"/>
<circle cx="439.35" cy="311.80" r="1.3" fill="#fff"/>
<circle cx="443.80" cy="61.00" r="1.3" fill="#fff"/>
<circle cx="443.80" cy="69.80" r="1.3" fill="#fff"/>
<circle cx="443.80" cy="78.60" r="1.3" fill="#fff"/>
<circle cx="443.80" cy="87.40" r="1.3" fill="#fff"/>
<circle cx="443.80" cy="96.20" r="1.3" fill="#fff"/>
<circle cx="443.80" cy="105.00" r="1.3" fill="#fff"/>
<circle cx="443.80" cy="113.80" r="1.3" fill="#fff"/>
<circle cx="443.80" cy="122.60" r="1.3" fill="#fff"/>
<circle cx="443.80" cy="131.40" r="1.3" fill="#fff"/>
<circle cx="443.80" cy="140.20" r="1.3" fill="#fff"/>
<circle cx="443.80" cy="149.00" r="1.3" fill="#fff"/>
<circle cx="443.80" cy="157.80" r="1.3" fill="#fff"/>
<circle cx="443.80" cy="166.60" r="1.3" fill="#fff"/>
<circle cx="443.80" cy="175.40" r="1.3" fill="#fff"/>
<circle cx="443.80" cy="184.20" r="1.3" fill="#fff"/>
<circle cx="443.80" cy="193.00" r="1.3" fill="#fff"/>
<circle cx="443.80" cy="201.80" r="1.3" fill="#fff"/>
<circle cx="443.80" cy="210.60" r="1.3" fill="#fff"/>
<circle cx="443.80" cy="219.40" r="1.3" fill="#fff"/>
<circle cx="443.80" cy="228.20" r="1.3" fill="#fff"/>
<circle cx="443.80" cy="237.00" r="1.3" fill="#fff"/>
<circle cx="443.80" cy="245.80" r="1.3" fill="#fff"/>
<circle cx="443.80" cy="254.60" r="1.3" fill="#fff"/>
<circle cx="443.80" cy="263.40" r="1.3" fill="#fff"/>
<circle cx="443.80" cy="272.20" r="1.3" fill="#fff"/>
<circle cx="443.80" cy="281.00" r="1.3" fill="#fff"/>
<circle cx="443.80" cy="289.80" r="1.3" fill="#fff"/>
<circle cx="443.80" cy="298.60" r="1.3" fill="#fff"/>
<circle cx="443.80" cy="307.40" r="1.3" fill="#fff"/>
<circle cx="448.25" cy="56.60" r="1.3" fill="#fff"/>
<circle cx="448.25" cy="65.40" r="1.3" fill="#fff"/>
<circle cx="448.25" cy="74.20" r="1.3" fill="#fff"/>
<circle cx="448.25" cy="83.00" r="1.3" fill="#fff"/>
<circle cx="448.25" cy="91.80" r="1.3" fill="#fff"/>
<circle cx="448.25" cy="100.60" r="1.3" fill="#fff"/>
<circle cx="448.25" cy="109.40" r="1.3" fill="#fff"/>
<circle cx="448.25" cy="118.20" r="1.3" fill="#fff"/>
<circle cx="448.25" cy="127.00" r="1.3" fill="#fff"/>
<circle cx="448.25" cy="135.80" r="1.3" fill="#fff"/>
<circle cx="448.25" cy="144.60" r="1.3" fill="#fff"/>
<circle cx="448.25" cy="153.40" r="1.3" fill="#fff"/>
<circle cx="448.25" cy="162.20" r="1.3" fill="#fff"/>
<circle cx="448.25" cy="171.00" r="1.3" fill="#fff"/>
<circle cx="448.25" cy="179.80" r="1.3" fill="#fff"/>
<circle cx="448.25" cy="188.60" r="1.3" fill="#fff"/>
<circle cx="448.25" cy="197.40" r="1.3" fill="#fff"/>
<circle cx="448.25" cy="206.20" r="1.3" fill="#fff"/>
<circle cx="448.25" cy="215.00" r="1.3" fill="#fff"/>
<circle cx="448.25" cy="223.80" r="1.3" fill="#fff"/>
<circle cx="448.25" cy="232.60" r="1.3" fill="#fff"/>
<circle cx="448.25" cy="241.40" r="1.3" fill="#fff"/>
<circle cx="448.25" cy="250.20" r="1.3" fill="#fff"/>
<circle cx="448.25" cy="259.00" r="1.3" fill="#fff"/>
<circle cx="448.25" cy="267.80" r="1.3" fill="#fff"/>
<circle cx="448.25" cy="276.60" r="1.3" fill="#fff"/>
<circle cx="448.25" cy="285.40" r="1.3" fill="#fff"/>
<circle cx="448.25" cy="294.20" r="1.3" fill="#fff"/>
<circle cx="448.25" cy="303.00" r="1.3" fill="#fff"/>
<circle cx="448.25" cy="311.80" r="1.3" fill="#fff"/>
<rect x="454.5" y="145.5" width="31.0" height="169.5" fill="#fff" stroke="#000" stroke-width="2.2"/>
<line x1="462.5" y1="145.5" x2="462.5" y2="315.0" stroke="#000" stroke-width="2"/>
<line x1="471.2" y1="145.5" x2="471.2" y2="315.0" stroke="#000" stroke-width="2"/>
<line x1="480.2" y1="145.5" x2="480.2" y2="315.0" stroke="#000" stroke-width="2"/>
<rect x="485.5" y="129.8" width="31.100000000000023" height="185.2" fill="#fff" stroke="#000" stroke-width="2.2"/>
<line x1="83.5" y1="150.8" x2="83.5" y2="172.2" stroke="#000" stroke-width="2"/>
<line x1="77" y1="150.8" x2="90.5" y2="150.8" stroke="#000" stroke-width="2.2"/>
<line x1="77" y1="172.2" x2="90.5" y2="172.2" stroke="#000" stroke-width="2.2"/>
<line x1="116" y1="93" x2="116" y2="103" stroke="#000" stroke-width="2"/>
<line x1="109.5" y1="93" x2="123" y2="93" stroke="#000" stroke-width="2.2"/>
<line x1="148.5" y1="107" x2="148.5" y2="125.8" stroke="#000" stroke-width="2"/>
<line x1="143" y1="107" x2="156" y2="107" stroke="#000" stroke-width="2.2"/>
<line x1="143" y1="125.8" x2="156" y2="125.8" stroke="#000" stroke-width="2.2"/>
<line x1="181" y1="116.5" x2="181" y2="143.5" stroke="#000" stroke-width="2"/>
<line x1="174.5" y1="116.5" x2="188" y2="116.5" stroke="#000" stroke-width="2.2"/>
<line x1="174.5" y1="143.5" x2="188" y2="143.5" stroke="#000" stroke-width="2.2"/>
<line x1="244.8" y1="177.8" x2="244.8" y2="206" stroke="#000" stroke-width="2"/>
<line x1="238.5" y1="177.8" x2="252" y2="177.8" stroke="#000" stroke-width="2.2"/>
<line x1="238.5" y1="206" x2="252" y2="206" stroke="#000" stroke-width="2.2"/>
<line x1="277.5" y1="68.2" x2="277.5" y2="89.3" stroke="#000" stroke-width="2"/>
<line x1="271" y1="68.2" x2="284.8" y2="68.2" stroke="#000" stroke-width="2.2"/>
<line x1="310" y1="113.2" x2="310" y2="149" stroke="#000" stroke-width="2"/>
<line x1="303.5" y1="113.2" x2="316.8" y2="113.2" stroke="#000" stroke-width="2.2"/>
<line x1="303.5" y1="149" x2="316.8" y2="149" stroke="#000" stroke-width="2.2"/>
<line x1="342" y1="108" x2="342" y2="131.5" stroke="#000" stroke-width="2"/>
<line x1="335.5" y1="108" x2="349" y2="108" stroke="#000" stroke-width="2.2"/>
<line x1="335.5" y1="131.5" x2="349" y2="131.5" stroke="#000" stroke-width="2.2"/>
<line x1="405.2" y1="145.5" x2="405.2" y2="188.8" stroke="#000" stroke-width="2"/>
<line x1="399" y1="145.5" x2="412" y2="145.5" stroke="#000" stroke-width="2.2"/>
<line x1="399" y1="188.8" x2="412" y2="188.8" stroke="#000" stroke-width="2.2"/>
<line x1="436.5" y1="35.5" x2="436.5" y2="55.7" stroke="#000" stroke-width="2"/>
<line x1="431" y1="35.5" x2="444" y2="35.5" stroke="#000" stroke-width="2.2"/>
<rect x="463" y="142.5" width="13.5" height="4.0" rx="1.5" fill="#000"/>
<line x1="502" y1="117.5" x2="502" y2="142.5" stroke="#000" stroke-width="2"/>
<line x1="495.5" y1="117.5" x2="508.5" y2="117.5" stroke="#000" stroke-width="2.2"/>
<line x1="495.5" y1="142.5" x2="508.5" y2="142.5" stroke="#000" stroke-width="2.2"/>
<line x1="67.8" y1="8" x2="67.8" y2="316" stroke="#000" stroke-width="2"/>
<line x1="62" y1="315" x2="517.8" y2="315" stroke="#000" stroke-width="2.3"/>
<line x1="62" y1="9" x2="68" y2="9" stroke="#000" stroke-width="1.5"/>
<line x1="62" y1="43" x2="68" y2="43" stroke="#000" stroke-width="1.5"/>
<line x1="62" y1="77" x2="68" y2="77" stroke="#000" stroke-width="1.5"/>
<line x1="62" y1="111" x2="68" y2="111" stroke="#000" stroke-width="1.5"/>
<line x1="62" y1="145" x2="68" y2="145" stroke="#000" stroke-width="1.5"/>
<line x1="62" y1="179" x2="68" y2="179" stroke="#000" stroke-width="1.5"/>
<line x1="62" y1="213" x2="68" y2="213" stroke="#000" stroke-width="1.5"/>
<line x1="62" y1="247" x2="68" y2="247" stroke="#000" stroke-width="1.5"/>
<line x1="62" y1="281" x2="68" y2="281" stroke="#000" stroke-width="1.5"/>
<line x1="62" y1="315" x2="68" y2="315" stroke="#000" stroke-width="1.5"/>
<text x="53.5" y="14.2" text-anchor="end" class="tk">180</text>
<text x="53.5" y="48.2" text-anchor="end" class="tk">160</text>
<text x="53.5" y="82.2" text-anchor="end" class="tk">140</text>
<text x="53.5" y="116.2" text-anchor="end" class="tk">120</text>
<text x="53.5" y="150.2" text-anchor="end" class="tk">100</text>
<text x="53.5" y="184.2" text-anchor="end" class="tk">80</text>
<text x="53.5" y="218.2" text-anchor="end" class="tk">60</text>
<text x="53.5" y="252.2" text-anchor="end" class="tk">40</text>
<text x="53.5" y="286.2" text-anchor="end" class="tk">20</text>
<text x="53.5" y="320.2" text-anchor="end" class="tk">0</text>
<text transform="translate(14.8,255) rotate(-90)" text-anchor="start" class="yt">Relative cell viability <tspan dx="1.2">(%)</tspan></text>
<text transform="translate(85.50,374.00) rotate(-90)" class="xl">dAMP</text>
<text transform="translate(119.50,383.00) rotate(-90)" class="xl">dAMPS</text>
<text transform="translate(155.60,394.80) rotate(-90)" class="xl">dAMPS<tspan class="st">*</tspan></text>
<text transform="translate(190.20,404.00) rotate(-90)" class="xl">dAMPS<tspan class="st">**</tspan></text>
<text transform="translate(250.00,375.90) rotate(-90)" class="xl">dGMP</text>
<text transform="translate(284.50,385.70) rotate(-90)" class="xl">dGMPS</text>
<text transform="translate(316.50,397.10) rotate(-90)" class="xl">dGMPS<tspan class="st">*</tspan></text>
<text transform="translate(350.50,401.10) rotate(-90)" class="xl">dGMPS<tspan class="st">**</tspan></text>
<text transform="translate(411.60,364.50) rotate(-90)" class="xl">TMP</text>
<text transform="translate(443.40,373.20) rotate(-90)" class="xl">TMPS</text>
<text transform="translate(474.50,382.40) rotate(-90)" class="xl">TMPS<tspan class="st">*</tspan></text>
<text transform="translate(506.20,392.80) rotate(-90)" class="xl">TMPS<tspan class="st">**</tspan></text>
</svg>
</body></html>
